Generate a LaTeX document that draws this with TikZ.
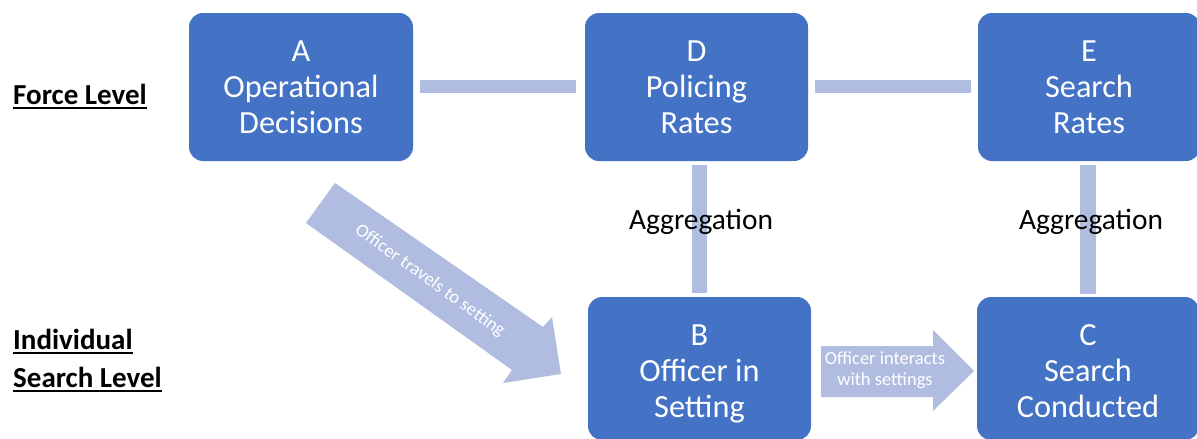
\documentclass[tikz,border=0pt]{standalone}
\usepackage{fontspec}
\setmainfont{Carlito}
\newcommand\myul[1]{\setbox0\hbox{#1}\rlap{\vrule height -2.5pt depth 5pt width \wd0}\box0}
\usetikzlibrary{calc}
\definecolor{boxblue}{RGB}{68,114,196}
\definecolor{lightblue}{RGB}{176,189,224}
\begin{document}
\begin{tikzpicture}[x=1pt,y=-1pt,
  box/.style={fill=boxblue, rounded corners=14pt, text=white, align=center,
    font=\fontsize{32.3}{36}\selectfont, inner sep=0pt},
  bar/.style={fill=lightblue},
  lvl/.style={font=\fontsize{29}{38}\selectfont\bfseries, anchor=base west, inner sep=0pt},
  agg/.style={font=\fontsize{29.4}{34}\selectfont, inner sep=0pt},
  arrowtext/.style={text=white, align=center, inner sep=0pt}
]
\useasboundingbox (0,0) rectangle (1197,439);
% boxes
\node[box, minimum width=224pt, minimum height=148pt] (A) at (301,87) {A\\Operational\\Decisions};
\node[box, minimum width=223pt, minimum height=148pt] (D) at (696.5,87) {D\\Policing\\Rates};
\node[box, minimum width=222pt, minimum height=148pt] (E) at (1089,87) {E\\Search\\Rates};
\node[box, minimum width=223pt, minimum height=143pt] (B) at (699.5,368.5) {B\rule{0pt}{31pt}\\Officer in\\Setting};
\node[box, minimum width=222pt, minimum height=143pt] (C) at (1088,368.5) {C\rule{0pt}{27pt}\\Search\\Conducted};
% horizontal bars
\fill[bar] ($(A.east)+(7,-7)$) rectangle ($(D.west)+(-9,6)$);
\fill[bar] ($(D.east)+(7,-7)$) rectangle ($(E.west)+(-7,6)$);
% vertical bars
\fill[bar] ($(B.north)+(-7.5,-4)$) rectangle ($(D.south -| B.north)+(7.5,4)$);
\fill[bar] ($(C.north)+(-8,-3)$) rectangle ($(E.south -| C.north)+(8,4)$);
\node[agg] (agg1) at (701,222) {Aggregation};
\node[agg] (agg2) at (1091,222) {Aggregation};
% diagonal block arrow
\coordinate (t1) at (335,183);
\coordinate (t2) at (306,223);
\fill[bar] (t1) -- (543,327) -- (552,317) -- (561,374) -- (503,383) -- (512,370) -- (t2) -- cycle;
\node[arrowtext, rotate=-35.5, font=\fontsize{18.5}{21}\selectfont] (travel) at (430,281) {Officer travels to setting};
% right block arrow
\coordinate (r1) at (821,346);
\coordinate (r2) at (821,397);
\fill[bar] (r1) -- (933,346) -- (933,330) -- (974,371) -- (933,411) -- (933,397) -- (r2) -- cycle;
\node[arrowtext, font=\fontsize{18.5}{21}\selectfont] (interact) at (885,370) {Officer interacts\\with settings};
% level labels
\node[lvl] (force) at (13,104) {\myul{Force Level}};
\node[lvl] (indiv) at (13,349) {\myul{Individual}};
\node[lvl] (searchlvl) at (13,387) {\myul{Search Level}};
\end{tikzpicture}
\end{document}
